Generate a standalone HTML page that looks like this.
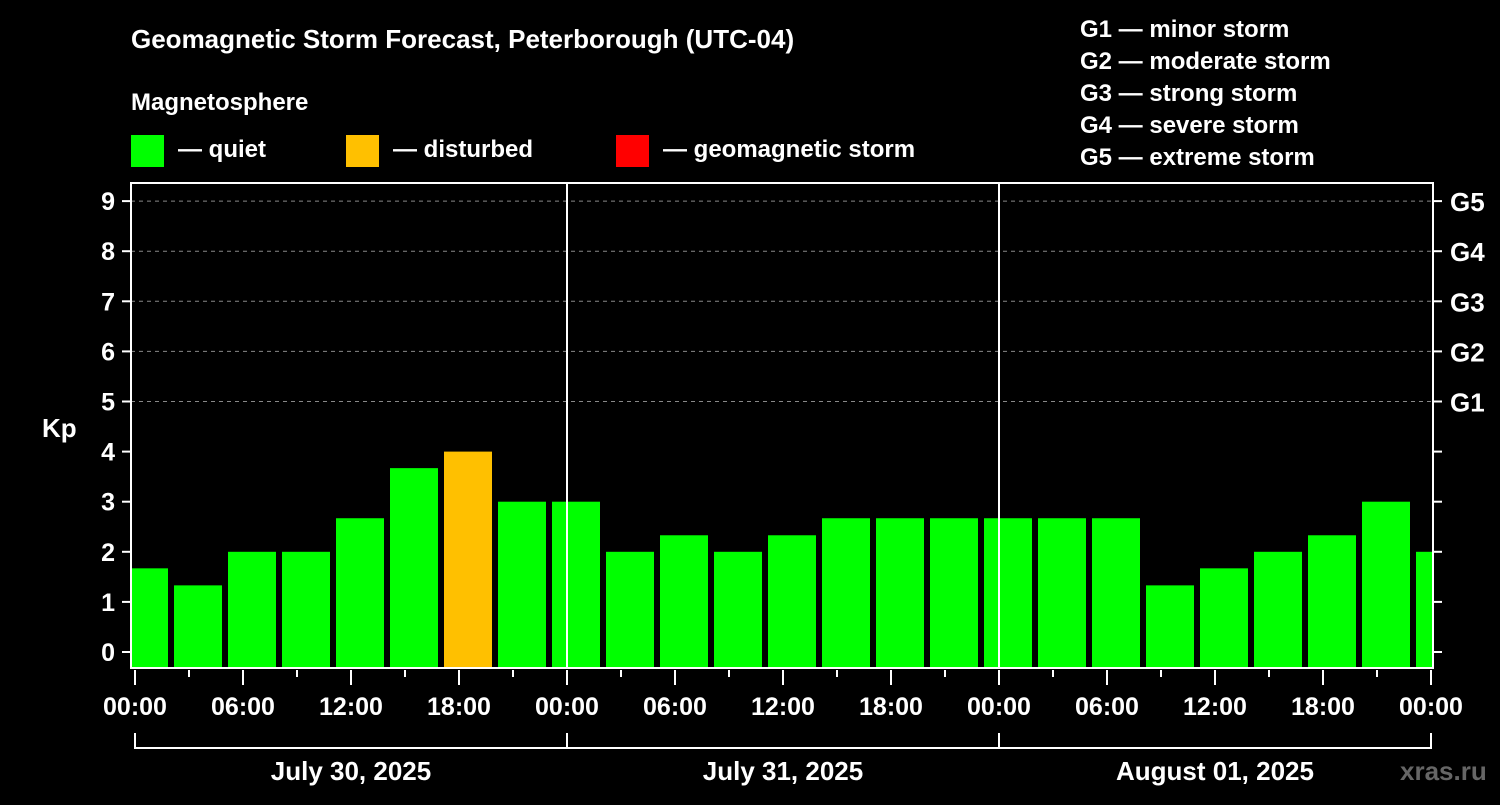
<!DOCTYPE html>
<html><head><meta charset="utf-8">
<style>
html,body{margin:0;padding:0;background:#000;}
body{width:1500px;height:800px;overflow:hidden;font-family:"Liberation Sans",sans-serif;}
svg text{font-family:"Liberation Sans",sans-serif;font-weight:bold;fill:#fff;}
</style></head>
<body>
<svg id="chart" width="1500" height="800" xmlns="http://www.w3.org/2000/svg">
<rect width="1500" height="800" fill="#000"/>
<text x="131" y="48" font-size="26">Geomagnetic Storm Forecast, Peterborough (UTC-04)</text>
<text x="131" y="110" font-size="24">Magnetosphere</text>
<g><rect x="131" y="135" width="33" height="32" fill="#00ff00"/><text x="178" y="157" font-size="24">— quiet</text></g>
<g><rect x="346" y="135" width="33" height="32" fill="#ffc000"/><text x="393" y="157" font-size="24">— disturbed</text></g>
<g><rect x="616" y="135" width="33" height="32" fill="#ff0000"/><text x="663" y="157" font-size="24">— geomagnetic storm</text></g>
<g font-size="24">
<text x="1080" y="37">G1 — minor storm</text>
<text x="1080" y="69">G2 — moderate storm</text>
<text x="1080" y="101">G3 — strong storm</text>
<text x="1080" y="133">G4 — severe storm</text>
<text x="1080" y="165">G5 — extreme storm</text>
</g>
<text x="42" y="437" font-size="26">Kp</text>
<g id="plot"></g>
<text x="1400" y="780" font-size="26" style="fill:#666">xras.ru</text>
</svg>
<script>
const kpValues=[1.67,1.33,2,2,2.67,3.67,4,3,3,2,2.33,2,2.33,2.67,2.67,2.67,2.67,2.67,2.67,1.33,1.67,2,2.33,3,2];
const yTicks=[0,1,2,3,4,5,6,7,8,9];
const gLabels=["G1","G2","G3","G4","G5"];
const gLevels=[5,6,7,8,9];
const xTickLabels=["00:00","06:00","12:00","18:00","00:00","06:00","12:00","18:00","00:00","06:00","12:00","18:00","00:00"];
const dayLabels=["July 30, 2025","July 31, 2025","August 01, 2025"];

const NS="http://www.w3.org/2000/svg";
const g=document.getElementById('plot');
const L=131,R=1433,T=183,B=668,X0=135,PXH=18;
const xH=h=>X0+h*PXH;
const yK=k=>652-k*50.1;
function mk(tag,attrs,parent){const e=document.createElementNS(NS,tag);for(const k in attrs)e.setAttribute(k,attrs[k]);(parent||g).appendChild(e);return e;}
// clip
const defs=mk('defs',{});const cp=mk('clipPath',{id:'pc'},defs);mk('rect',{x:L+1,y:T,width:R-L-2,height:B-T},cp);
// grid
gLevels.forEach(k=>{const l=mk('line',{x1:L,x2:R,y1:yK(k),y2:yK(k),stroke:'#888','stroke-dasharray':'4,4','stroke-width':1});

});
// bars
const bg=mk('g',{'clip-path':'url(#pc)'});
kpValues.forEach((v,i)=>{const c=xH(0.5+3*i);const col=v>=5?'#ff0000':(v>=4?'#ffc000':'#00ff00');
const r=mk('rect',{x:c-24,y:yK(v),width:48,height:B-1-yK(v),fill:col},bg);

});
// day separators
[24,48].forEach(h=>{const l=mk('line',{x1:xH(h),x2:xH(h),y1:T,y2:B,stroke:'#fff','stroke-width':2});

});
// frame
const fr=mk('rect',{x:L,y:T,width:R-L,height:B-T,fill:'none',stroke:'#fff','stroke-width':2});


// y ticks
yTicks.forEach(k=>{mk('line',{x1:122,x2:L,y1:yK(k),y2:yK(k),stroke:'#fff','stroke-width':2});
mk('line',{x1:R,x2:1442,y1:yK(k),y2:yK(k),stroke:'#fff','stroke-width':2});
const t=mk('text',{x:115,y:yK(k)+9,'font-size':25,'text-anchor':'end'});t.textContent=k;

});
gLabels.forEach((s,i)=>{const t=mk('text',{x:1450,y:yK(gLevels[i])+10,'font-size':26});t.textContent=s;

});
// x ticks
for(let h=0;h<=72;h+=3){const maj=h%6===0;mk('line',{x1:xH(h),x2:xH(h),y1:B+2,y2:maj?685:677,stroke:'#fff','stroke-width':2});}
xTickLabels.forEach((s,i)=>{const t=mk('text',{x:xH(i*6),y:715,'font-size':25,'text-anchor':'middle'});t.textContent=s;

});
// day bracket
mk('line',{x1:xH(0),x2:xH(72),y1:748,y2:748,stroke:'#fff','stroke-width':2});
[0,24,48,72].forEach(h=>mk('line',{x1:xH(h),x2:xH(h),y1:733,y2:749,stroke:'#fff','stroke-width':2}));
dayLabels.forEach((s,i)=>{const t=mk('text',{x:xH(12+24*i),y:780,'font-size':26,'text-anchor':'middle'});t.textContent=s;

});
</script>
</body></html>
